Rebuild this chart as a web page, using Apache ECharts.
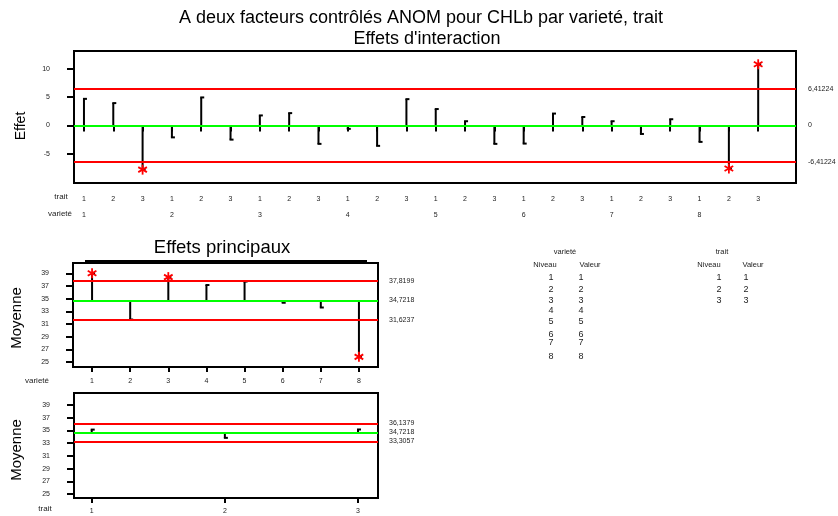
<!DOCTYPE html>
<html>
<head>
<meta charset="utf-8">
<script src="https://cdn.jsdelivr.net/npm/echarts@6/dist/echarts.min.js"></script>
<style>
  html, body { margin: 0; padding: 0; background: #fff; }
  #chart { width: 838px; height: 516px; }
</style>
</head>
<body>
<div id="chart"></div>
<script>
// Factor levels
const traitLabels = ['1', '2', '3'];
const varietyLabels = ['1', '2', '3', '4', '5', '6', '7', '8'];

// Interaction effects, variety 1..8 with trait 1..3 inside each variety
const interactionEffects = [
  4.7, 3.95, -7.8,
  -2.1, 4.95, -2.5,
  1.77, 2.18, -3.25,
  -0.6, -3.6, 4.65,
  2.9, 0.75, -3.25,
  -3.2, 2.1, 1.5,
  0.75, -1.5, 1.1,
  -2.9, -7.6, 10.8
];
const interactionLimit = 6.41224;

// Main effects (means)
const grandMean = 34.7218;
const varietyMeans = [39.0, 31.7, 38.4, 37.15, 37.7, 34.35, 33.6, 25.8];
const varietyLimits = [31.6237, 37.8199];
const traitMeans = [35.15, 33.85, 35.17];
const traitLimits = [33.3057, 36.1379];

// Tick labels
const effectTicks = [-5, 0, 5, 10];
const meanTicks = [25, 27, 29, 31, 33, 35, 37, 39];

const FONT = '"Liberation Sans", Arial, sans-serif';
const RED = '#ff0000';
const GREEN = '#00ff00';

const commaNum = v => String(v).replace('.', ',');

// vertical stem from the centre line to the value, with a short foot to the right
function stemRenderer(base) {
  return function (params, api) {
    const x = api.value(0), v = api.value(1);
    const p0 = api.coord([x, base]);
    const p1 = api.coord([x, v]);
    const st = { stroke: '#000', lineWidth: 2 };
    return {
      type: 'group',
      children: [
        { type: 'line', shape: { x1: p0[0], y1: p0[1], x2: p1[0], y2: p1[1] }, style: st },
        { type: 'line', shape: { x1: p1[0] - 1, y1: p1[1], x2: p1[0] + 3, y2: p1[1] }, style: st }
      ]
    };
  };
}

// red asterisk for points beyond the decision limits
function starRenderer(params, api) {
  const p = api.coord([api.value(0), api.value(1)]);
  const r = 5;
  const kids = [90, 30, -30].map(a => {
    const dx = r * Math.cos(a * Math.PI / 180), dy = r * Math.sin(a * Math.PI / 180);
    return { type: 'line', shape: { x1: p[0] - dx, y1: p[1] - dy, x2: p[0] + dx, y2: p[1] + dy },
             style: { stroke: RED, lineWidth: 1.8 } };
  });
  return { type: 'group', children: kids };
}

function limitLines(lo, mid, hi, dist) {
  return {
    symbol: 'none', silent: true, animation: false,
    lineStyle: { width: 2, type: 'solid' },
    label: { position: 'end', distance: dist, fontSize: 7, color: '#222', fontFamily: FONT,
             formatter: p => p.name },
    data: [
      { yAxis: hi, name: commaNum(hi), lineStyle: { color: RED } },
      { yAxis: mid, name: commaNum(mid), lineStyle: { color: GREEN } },
      { yAxis: lo, name: commaNum(lo), lineStyle: { color: RED } }
    ]
  };
}

const effectData = interactionEffects.map((v, i) => [i + 1, v]);
const effectStars = effectData.filter(d => Math.abs(d[1]) > interactionLimit);
const varietyData = varietyMeans.map((v, i) => [i, v]);
const varietyStars = varietyData.filter(d => d[1] > varietyLimits[1] || d[1] < varietyLimits[0]);
const traitData = traitMeans.map((v, i) => [i + 1, v]);
const traitStars = traitData.filter(d => d[1] > traitLimits[1] || d[1] < traitLimits[0]);

const axisLabelStyle = { fontSize: 7, color: '#222', fontFamily: FONT };
const yAxisCommon = {
  type: 'value',
  axisLine: { show: true, lineStyle: { color: '#000', width: 2 } },
  axisTick: { show: true, length: 7, lineStyle: { color: '#000', width: 2 } },
  splitLine: { show: false }
};

const chart = echarts.init(document.getElementById('chart'), null, { renderer: 'canvas' });

const option = {
  animation: false,
  backgroundColor: '#fff',
  textStyle: { fontFamily: FONT },
  grid: [
    { left: 74, top: 51, width: 722, height: 132, show: true, borderColor: '#000', borderWidth: 2 },
    { left: 73, top: 263, width: 305, height: 104, show: true, borderColor: '#000', borderWidth: 2 },
    { left: 74, top: 393, width: 304, height: 105, show: true, borderColor: '#000', borderWidth: 2 }
  ],
  xAxis: [
    {
      gridIndex: 0, type: 'value', min: 0.66, max: 25.29,
      axisLine: { show: false }, splitLine: { show: false },
      axisTick: { show: true, length: 6, customValues: effectData.map(d => d[0]), lineStyle: { color: '#000', width: 2 } },
      axisLabel: Object.assign({ margin: 13, customValues: effectData.map(d => d[0]),
        formatter: v => traitLabels[(v - 1) % traitLabels.length] }, axisLabelStyle)
    },
    {
      gridIndex: 0, type: 'value', min: 0.66, max: 25.29, position: 'bottom',
      axisLine: { show: false }, axisTick: { show: false }, splitLine: { show: false },
      axisLabel: Object.assign({ margin: 29,
        customValues: varietyLabels.map((_, i) => i * traitLabels.length + 1),
        formatter: v => varietyLabels[(v - 1) / traitLabels.length] }, axisLabelStyle)
    },
    {
      gridIndex: 1, type: 'category', data: varietyLabels, boundaryGap: true,
      axisLine: { show: false }, splitLine: { show: false },
      axisTick: { show: true, alignWithLabel: true, length: 5, lineStyle: { color: '#000', width: 2 } },
      axisLabel: Object.assign({ margin: 11 }, axisLabelStyle)
    },
    {
      gridIndex: 2, type: 'value', min: 0.867, max: 3.15,
      axisLine: { show: false }, splitLine: { show: false },
      axisTick: { show: true, length: 5, customValues: [1, 2, 3], lineStyle: { color: '#000', width: 2 } },
      axisLabel: Object.assign({ margin: 10, customValues: [1, 2, 3],
        formatter: v => traitLabels[v - 1] }, axisLabelStyle)
    }
  ],
  yAxis: [
    Object.assign({}, yAxisCommon, {
      gridIndex: 0, min: -10.16, max: 13.15,
      axisTick: Object.assign({}, yAxisCommon.axisTick, { customValues: effectTicks }),
      axisLabel: Object.assign({ margin: 24, customValues: effectTicks }, axisLabelStyle)
    }),
    Object.assign({}, yAxisCommon, {
      gridIndex: 1, min: 24.2, max: 40.63,
      axisTick: Object.assign({}, yAxisCommon.axisTick, { customValues: meanTicks }),
      axisLabel: Object.assign({ margin: 24, customValues: meanTicks }, axisLabelStyle)
    }),
    Object.assign({}, yAxisCommon, {
      gridIndex: 2, min: 24.37, max: 40.92,
      axisTick: Object.assign({}, yAxisCommon.axisTick, { customValues: meanTicks }),
      axisLabel: Object.assign({ margin: 24, customValues: meanTicks }, axisLabelStyle)
    })
  ],
  series: [
    // interaction effects
    { type: 'line', xAxisIndex: 0, yAxisIndex: 0, data: [], z: 1,
      markLine: limitLines(-interactionLimit, 0, interactionLimit, 12) },
    { type: 'custom', xAxisIndex: 0, yAxisIndex: 0, z: 3, renderItem: stemRenderer(0), data: effectData },
    { type: 'custom', xAxisIndex: 0, yAxisIndex: 0, z: 4, renderItem: starRenderer, data: effectStars },
    // variety main effects
    { type: 'line', xAxisIndex: 2, yAxisIndex: 1, data: [], z: 1,
      markLine: limitLines(varietyLimits[0], grandMean, varietyLimits[1], 11) },
    { type: 'custom', xAxisIndex: 2, yAxisIndex: 1, z: 3, renderItem: stemRenderer(grandMean), data: varietyData },
    { type: 'custom', xAxisIndex: 2, yAxisIndex: 1, z: 4, renderItem: starRenderer, data: varietyStars },
    // trait main effects
    { type: 'line', xAxisIndex: 3, yAxisIndex: 2, data: [], z: 1,
      markLine: limitLines(traitLimits[0], grandMean, traitLimits[1], 11) },
    { type: 'custom', xAxisIndex: 3, yAxisIndex: 2, z: 3, renderItem: stemRenderer(grandMean), data: traitData },
    { type: 'custom', xAxisIndex: 3, yAxisIndex: 2, z: 4, renderItem: starRenderer, data: traitStars }
  ],
  graphic: buildGraphics()
};

function txt(x, y, text, size, opts) {
  return Object.assign({
    type: 'text', x: x, y: y, silent: true,
    style: Object.assign({ text: text, fontSize: size, fontFamily: FONT, fill: '#000',
      textAlign: 'center', textVerticalAlign: 'middle' }, (opts && opts.style) || {})
  }, opts && opts.rotation !== undefined ? { rotation: opts.rotation } : {});
}

function buildGraphics() {
  const g = [];
  g.push(txt(421, 18, 'A deux facteurs contrôlés ANOM pour CHLb par varieté, trait', 18));
  g.push(txt(427, 39, "Effets d'interaction", 18));
  g.push(txt(222, 248, 'Effets principaux', 18.5));
  g.push({ type: 'rect', silent: true, shape: { x: 85, y: 260, width: 282, height: 2 }, style: { fill: '#000' } });

  g.push(txt(21, 126, 'Effet', 14, { rotation: Math.PI / 2 }));
  g.push(txt(17, 318, 'Moyenne', 15, { rotation: Math.PI / 2 }));
  g.push(txt(17, 450, 'Moyenne', 15, { rotation: Math.PI / 2 }));

  const small = { style: { fill: '#222' } };
  g.push(txt(61, 197, 'trait', 8, small));
  g.push(txt(60, 214, 'varieté', 8, small));
  g.push(txt(37, 381, 'varieté', 8, small));
  g.push(txt(45, 509, 'trait', 8, small));

  // level tables
  const rowsY = [277.7, 289.3, 301, 310.3, 321.7, 334.3, 342.3, 356.7];
  g.push(txt(565, 252, 'varieté', 7.5, small));
  g.push(txt(545, 265, 'Niveau', 7.5, small));
  g.push(txt(590, 265, 'Valeur', 7.5, small));
  varietyLabels.forEach((lab, i) => {
    g.push(txt(551, rowsY[i], lab, 9, small));
    g.push(txt(581, rowsY[i], lab, 9, small));
  });
  g.push(txt(722, 252, 'trait', 7.5, small));
  g.push(txt(709, 265, 'Niveau', 7.5, small));
  g.push(txt(753, 265, 'Valeur', 7.5, small));
  traitLabels.forEach((lab, i) => {
    g.push(txt(719, rowsY[i], lab, 9, small));
    g.push(txt(746, rowsY[i], lab, 9, small));
  });
  return g;
}

chart.setOption(option);
</script>
</body>
</html>
